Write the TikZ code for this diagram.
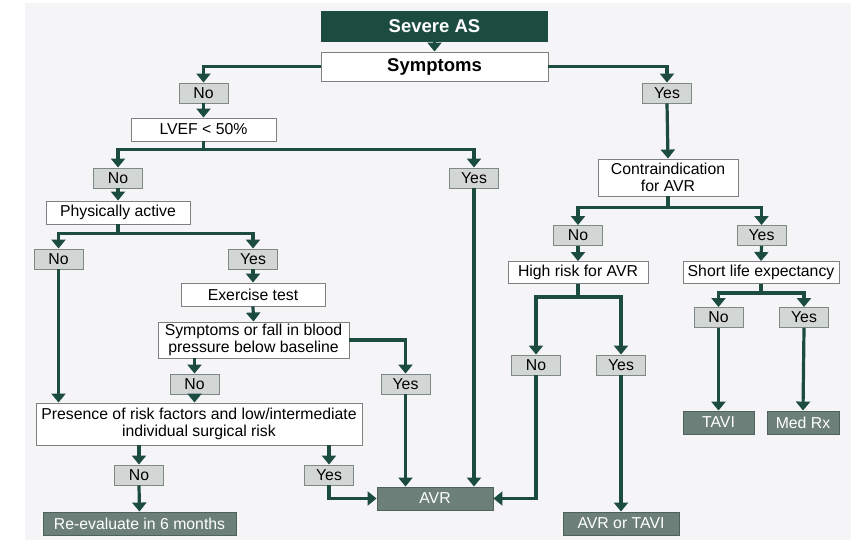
\documentclass[tikz,border=0pt]{standalone}
\usepackage{fontspec}
\setmainfont{Liberation Sans}
\usepackage{xcolor}
\usepackage{tikz}
\usetikzlibrary{arrows.meta}
\definecolor{asgreen}{HTML}{1C4C3F}
\definecolor{lblgray}{HTML}{D2D6D4}
\definecolor{lbledge}{HTML}{7E8884}
\definecolor{endgray}{HTML}{6C8079}
\definecolor{endedge}{HTML}{4E625B}
\definecolor{bggray}{HTML}{F5F5F8}

\begin{document}
\begin{tikzpicture}[x=1pt,y=-1pt,
  box/.style={draw=gray, fill=white, line width=0.9pt, inner sep=0pt, align=center,
    font=\fontsize{15.8}{17}\selectfont},
  lbl/.style={draw=lbledge, fill=lblgray, line width=0.9pt, inner sep=0pt,
    minimum width=49pt, minimum height=20pt, font=\fontsize{15.8}{17}\selectfont},
  endbox/.style={draw=endedge, fill=endgray, text=white, line width=0.9pt, inner sep=0pt,
    minimum height=23pt, font=\fontsize{15.8}{17}\selectfont},
  wire/.style={draw=asgreen, line width=3.2pt},
  flow/.style={wire, -{Triangle[width=14pt,length=9pt]}}]
\useasboundingbox (0,0) rectangle (864,540);
\fill[bggray] (25,3) rectangle (851,540);

\node[fill=asgreen, text=white, inner sep=0pt, minimum width=227pt, minimum height=31pt,
  font=\fontsize{18.5}{20}\selectfont\bfseries] (severe) at (434.5,26.5) {Severe AS};
\node[box, minimum width=227pt, minimum height=29pt,
  font=\fontsize{18.5}{20}\selectfont\bfseries] (symp) at (434.5,66.5) {Symptoms};
\node[lbl] (sympNo) at (203.5,93) {No};
\node[lbl] (sympYes) at (667,93) {Yes};
\node[box, minimum width=145pt, minimum height=23pt] (lvef) at (203.5,129.5) {LVEF < 50\%};
\node[lbl] (lvefNo) at (118,178) {No};
\node[lbl] (lvefYes) at (474,178) {Yes};
\node[box, minimum width=144pt, minimum height=23pt] (act) at (118,212.5) {Physically active};
\node[lbl] (actNo) at (58.5,259) {No};
\node[lbl] (actYes) at (253,259) {Yes};
\node[box, minimum width=144pt, minimum height=23pt] (ex) at (253,294.5) {Exercise test};
\node[box, minimum width=191pt, minimum height=36pt] (exSym) at (253.5,340)
  {Symptoms or fall in blood\\pressure below baseline};
\node[lbl] (exNo) at (194.5,384) {No};
\node[lbl] (exYes) at (405.5,384) {Yes};
\node[box, minimum width=326pt, minimum height=42pt] (risk) at (199,424)
  {Presence of risk factors and low/intermediate\\individual surgical risk};
\node[lbl] (riskNo) at (139,475) {No};
\node[lbl] (riskYes) at (329,475) {Yes};
\node[endbox, minimum width=193pt] (reeval) at (139.5,523.5) {Re-evaluate in 6 months};
\node[endbox, minimum width=116pt] (avr) at (435,498.5) {AVR};
\node[box, minimum width=140pt, minimum height=37pt] (contra) at (668,177.5)
  {Contraindication\\for AVR};
\node[lbl] (contraNo) at (578,235.5) {No};
\node[lbl] (contraYes) at (761.5,235.5) {Yes};
\node[box, minimum width=140pt, minimum height=22pt] (high) at (578,272.5) {High risk for AVR};
\node[box, minimum width=156pt, minimum height=22pt] (life) at (761,272.5) {Short life expectancy};
\node[lbl] (highNo) at (536,365) {No};
\node[lbl] (highYes) at (621,365) {Yes};
\node[lbl] (lifeNo) at (718.5,317.5) {No};
\node[lbl] (lifeYes) at (804,317.5) {Yes};
\node[endbox, minimum width=71pt] (tavi) at (718.5,422.5) {TAVI};
\node[endbox, minimum width=72pt] (medrx) at (803,422.5) {Med Rx};
\node[endbox, minimum width=116pt] (avrtavi) at (621,523.5) {AVR or TAVI};

\draw[flow] (severe.south) -- (symp.north);
\draw[flow] (symp.west) -| (sympNo.north);
\draw[flow] (symp.east) -| (sympYes.north);
\draw[flow] (sympNo.south) -- (lvef.north);
\draw[flow] (lvef.south) -- ++(0,8) -| (lvefNo.north);
\draw[flow] (lvef.south) ++(0,8) -| (lvefYes.north);
\draw[flow] (lvefYes.south) -- (lvefYes.south |- avr.north);
\draw[flow] (lvefNo.south) -- (act.north);
\draw[flow] (act.south) -- ++(0,9) -| (actNo.north);
\draw[flow] (act.south) ++(0,9) -| (actYes.north);
\draw[flow] (actNo.south) -- (actNo.south |- risk.north);
\draw[flow] (actYes.south) -- (ex.north);
\draw[flow] (ex.south) -- (exSym.north);
\draw[flow] (exSym.south -| exNo) -- (exNo.north);
\draw[flow] (exSym.east) -| (exYes.north);
\draw[flow] (exNo.south) -- (exNo.south |- risk.north);
\draw[flow] (exYes.south) -- (exYes.south |- avr.north);
\draw[flow] (risk.south -| riskNo) -- (riskNo.north);
\draw[flow] (risk.south -| riskYes) -- (riskYes.north);
\draw[flow] (riskNo.south) -- (reeval.north);
\draw[flow] (riskYes.south) |- (avr.west);
\draw[flow] (sympYes.south) -- (contra.north);
\draw[flow] (contra.south) -- ++(0,11) -| (contraNo.north);
\draw[flow] (contra.south) ++(0,11) -| (contraYes.north);
\draw[flow] (contraNo.south) -- (high.north);
\draw[flow] (contraYes.south) -- (life.north);
\draw[flow] (high.south) -- ++(0,13) -| (highNo.north);
\draw[flow] (high.south) ++(0,13) -| (highYes.north);
\draw[flow] (highNo.south) |- (avr.east);
\draw[flow] (highYes.south) -- (avrtavi.north);
\draw[flow] (life.south) -- ++(0,9) -| (lifeNo.north);
\draw[flow] (life.south) ++(0,9) -| (lifeYes.north);
\draw[flow] (lifeNo.south) -- (tavi.north);
\draw[flow] (lifeYes.south) -- (medrx.north);
\end{tikzpicture}
\end{document}
